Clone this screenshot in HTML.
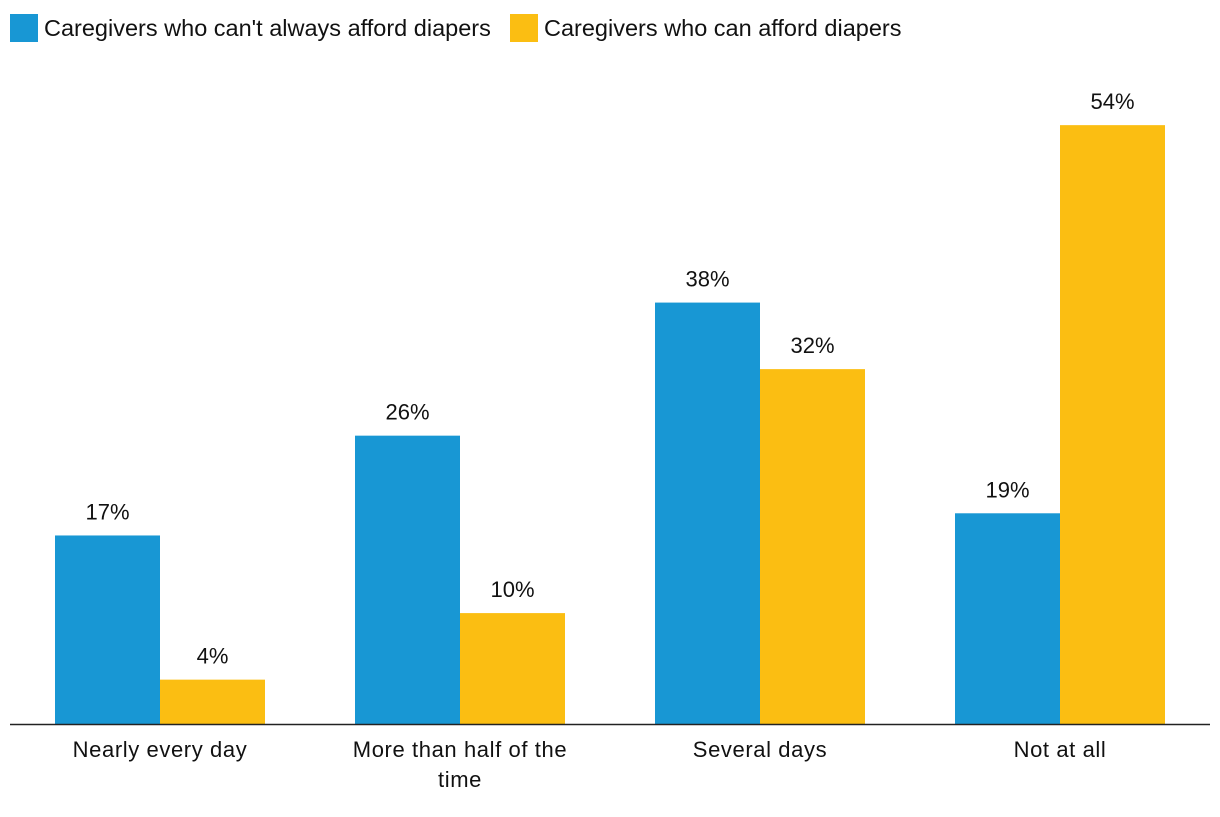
<!DOCTYPE html>
<html><head><meta charset="utf-8"><style>
body{margin:0;background:#fff;font-family:"Liberation Sans",sans-serif;}
svg text{font-family:"Liberation Sans",sans-serif;fill:#111;}
</style></head><body>
<svg id="chart" width="1220" height="812" xmlns="http://www.w3.org/2000/svg">
<g>
<rect x="10" y="14" width="28" height="28" fill="#1897d4"/>
<text x="44" y="36" font-size="23.5">Caregivers who can't always afford diapers</text>
<rect x="510" y="14" width="28" height="28" fill="#fbbe12"/>
<text x="544" y="36" font-size="23.5">Caregivers who can afford diapers</text>
</g>
<g id="bars"></g>
<line x1="10" y1="724.5" x2="1210" y2="724.5" stroke="#222" stroke-width="1.5"/>
</svg>
<script>
const categories=[["Nearly every day"],["More than half of the","time"],["Several days"],["Not at all"]];
const cantAfford=[17,26,38,19];
const canAfford=[4,10,32,54];
const valueLabels=["%"];
const svg=document.getElementById('bars');
const NS='http://www.w3.org/2000/svg';
const base=724, pxPer=11.09, left=10, groupW=300, barW=105;
function y(v){return base-v*pxPer;}
function x(i){return left+i*groupW+groupW/2;}
function mk(tag,attrs){const e=document.createElementNS(NS,tag);for(const k in attrs)e.setAttribute(k,attrs[k]);svg.appendChild(e);return e;}
categories.forEach((c,i)=>{
  [[cantAfford,'#1897d4',-barW,'cant-afford'],[canAfford,'#fbbe12',0,'can-afford']].forEach(([arr,col,off,nm])=>{
    const v=arr[i];
    const r=mk('rect',{x:x(i)+off,y:y(v),width:barW,height:base-y(v),fill:col});
    
    
    const t=mk('text',{x:x(i)+off+barW/2,y:y(v)-16,'font-size':22,'text-anchor':'middle'});
    t.textContent=v+valueLabels[0];
    
    
  });
  c.forEach((line,j)=>{
    const t=mk('text',{x:x(i),y:757+j*30,'font-size':22,'letter-spacing':'0.6','text-anchor':'middle'});
    t.textContent=line;
    
    
  });
});
</script>
</body></html>
